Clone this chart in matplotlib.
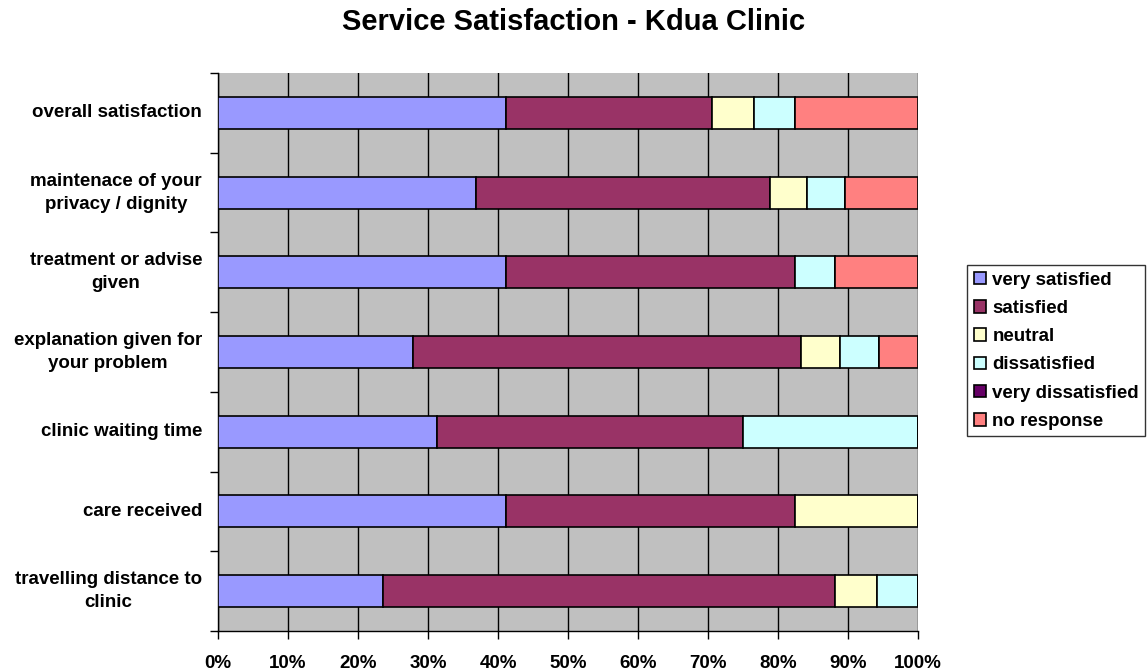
import numpy as np
import matplotlib.pyplot as plt
from matplotlib.ticker import FixedLocator, PercentFormatter

plt.rcParams["font.family"] = ["Liberation Sans", "DejaVu Sans"]
plt.rcParams["font.weight"] = "bold"

# categories, top to bottom
questions = [
    "overall satisfaction",
    "maintenace of your\nprivacy / dignity",
    "treatment or advise\ngiven",
    "explanation given for\nyour problem",
    "clinic waiting time",
    "care received",
    "travelling distance to\nclinic",
]

# share of responses in %
very_satisfied    = [41.2, 36.8, 41.2, 27.8, 31.3, 41.2, 23.5]
satisfied         = [29.4, 42.1, 41.2, 55.5, 43.7, 41.2, 64.7]
neutral           = [5.9, 5.3, 0.0, 5.6, 0.0, 17.6, 5.9]
dissatisfied      = [5.9, 5.3, 5.8, 5.5, 25.0, 0.0, 5.9]
very_dissatisfied = [0.0, 0.0, 0.0, 0.0, 0.0, 0.0, 0.0]
no_response       = [17.6, 10.5, 11.8, 5.6, 0.0, 0.0, 0.0]

series = [
    ("very satisfied", very_satisfied, "#9999FF"),
    ("satisfied", satisfied, "#993366"),
    ("neutral", neutral, "#FFFFCC"),
    ("dissatisfied", dissatisfied, "#CCFFFF"),
    ("very dissatisfied", very_dissatisfied, "#660066"),
    ("no response", no_response, "#FF8080"),
]

FS = 13.5

fig = plt.figure(figsize=(11.48, 6.71), dpi=100)
ax = fig.add_axes([0.1899, 0.0596, 0.6098, 0.8316])
ax.set_facecolor("#C0C0C0")

y = np.arange(len(questions))
left = np.zeros(len(questions))
for name, vals, color in series:
    vals = np.array(vals)
    ax.barh(y, vals, left=left, height=0.4, color=color,
            edgecolor="black", linewidth=1.2, label=name, zorder=3)
    left += vals

ax.set_xlim(0, 100)
ax.set_ylim(len(questions) - 0.5, -0.5)
ax.xaxis.set_major_locator(FixedLocator(np.arange(0, 101, 10)))
ax.xaxis.set_major_formatter(PercentFormatter(decimals=0))
ax.grid(axis="x", color="black", linewidth=1, zorder=1)

# category labels sit between boundary ticks
ax.set_yticks(y)
ax.set_yticklabels(questions, multialignment="center", fontsize=FS,
                   fontweight="bold", linespacing=1.45, va="center")
ax.tick_params(axis="y", length=0, pad=11.5)
ax.set_yticks(np.arange(-0.5, len(questions)), minor=True)
ax.tick_params(axis="y", which="minor", length=6, width=1, direction="out")
ax.tick_params(axis="x", length=6, width=1, direction="out", labelsize=FS, pad=11.5)
for lab in ax.get_xticklabels():
    lab.set_fontweight("bold")

for side in ["top", "right"]:
    ax.spines[side].set_visible(False)
ax.spines["left"].set_linewidth(1)
ax.spines["bottom"].set_linewidth(1)

fig.text(0.5, 0.967, "Service Satisfaction - Kdua Clinic", ha="center", va="center",
         fontsize=21, fontweight="bold")

leg = fig.legend(loc="upper left", bbox_to_anchor=(0.8423, 0.605),
                 fontsize=FS, frameon=True, fancybox=False,
                 edgecolor="black", handlelength=0.65, handleheight=0.65,
                 handletextpad=0.35, labelspacing=0.6, borderpad=0.35,
                 borderaxespad=0)
leg.get_frame().set_linewidth(1)
for t in leg.get_texts():
    t.set_fontweight("bold")

fig.savefig("out.png", dpi=100)
